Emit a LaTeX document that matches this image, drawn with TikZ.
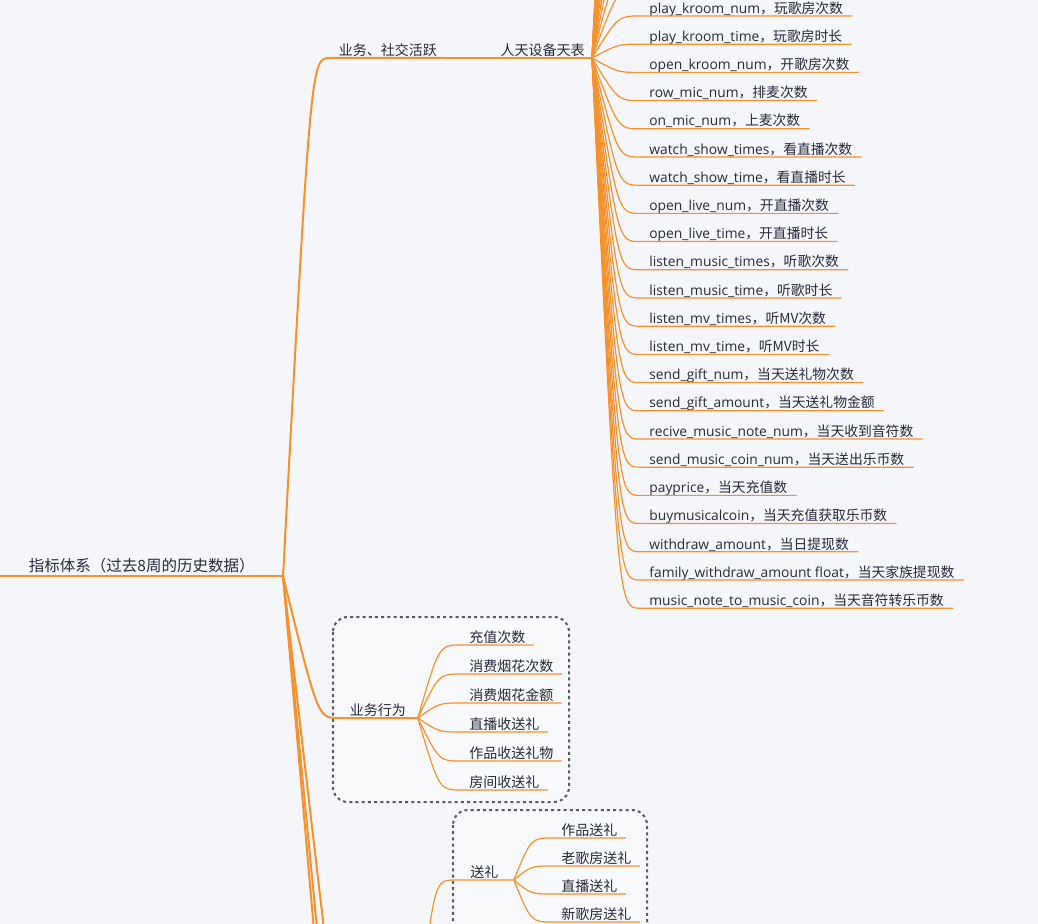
\documentclass[tikz,border=0pt]{standalone}
\usepackage{fontspec}
\setmainfont{Open Sans}
\newfontfamily\cjk{Noto Sans CJK SC}
\usetikzlibrary{positioning,calc}
\definecolor{bgcol}{HTML}{F5F6FA}
\definecolor{linecol}{HTML}{F5922E}
\definecolor{txtcol}{HTML}{262A3A}
\definecolor{boxcol}{HTML}{5A5A60}
\newcommand\zh[1]{{\cjk #1}}
\begin{document}
\begin{tikzpicture}[x=0.5pt, y=-0.5pt,
    every node/.style={text=txtcol, inner sep=0pt, text depth=1.2pt},
    roottopic/.style={font=\cjk\fontsize{7.75}{9}\selectfont, inner xsep=14pt, text depth=2pt},
    topic/.style={font=\cjk\fontsize{7}{8}\selectfont, inner xsep=4.5pt},
    leaf/.style={font=\fontsize{6.9}{8}\selectfont, inner xsep=4.5pt},
    rootlink/.style={draw=linecol, line width=1.25pt},
    mainlink/.style={draw=linecol, line width=1pt},
    sublink/.style={draw=linecol, line width=0.8pt},
    link/.style={draw=linecol, line width=0.6pt},
    grp/.style={draw=boxcol, fill=bgcol!70!white, line width=1pt, dash pattern=on 1.5pt off 1.6pt, rounded corners=7.5pt}]
  % 1. 画布
  \useasboundingbox (0,0) rectangle (1038,924);
  \fill[bgcol] (0,0) rectangle (1038,924);
  \clip (0,0) rectangle (1038,924);

  % 2. 虚线分组框
  \draw[grp] (333,617) rectangle (569,802);
  \draw[grp] (453,810) rectangle (647,1000);

  % 3. 中心主题
  \coordinate (rootin) at (-10,576);
  \node[roottopic, anchor=south east] (root) at (283,576) {指标体系（过去8周的历史数据）};
  \draw[rootlink] (rootin) -- (root.south west) -- (root.south east);

  % 4. 一级分支
  \node[topic, anchor=south west, inner xsep=4.25pt] (biz) at (330,58) {业务、社交活跃};
  \node[topic, anchor=south east, inner xsep=3.5pt] (rsb) at (592,58) {人天设备天表};
  \node[topic, anchor=south west, inner xsep=5.75pt] (act) at (338,718) {业务行为};
  \draw[mainlink] (root.south east) .. controls ($(biz.south west)+(-19,0)$) .. (biz.south west) -- (biz.south east);
  \draw[sublink] (biz.south east) -- (rsb.south west) -- (rsb.south east);
  \draw[mainlink] (root.south east) .. controls ($(act.south west)+(-20,0)$) .. (act.south west) -- (act.south east);

  % 画面下方的其他分支
  \coordinate (dn1) at (410,1800);
  \coordinate (dn2) at (392,1500);
  \coordinate (dn3) at (375,1200);
  \foreach \k in {1,2,3}
    \draw[mainlink] (root.south east) .. controls ($(dn\k)+(-20,0)$) .. (dn\k);

  % 5. 人天设备天表的字段
  \foreach \k in {1,...,18} {
    \coordinate (up\k) at (640,{16-28.2*\k});
    \draw[link] (rsb.south east) .. controls ($(up\k)+(-22,0)$) .. (up\k) -- +(200,0);
  }
  \foreach \i/\en/\zhs in {1/play\_kroom\_num/，玩歌房次数, 2/play\_kroom\_time/，玩歌房时长,
      3/open\_kroom\_num/，开歌房次数, 4/row\_mic\_num/，排麦次数, 5/on\_mic\_num/，上麦次数,
      6/watch\_show\_times/，看直播次数, 7/watch\_show\_time/，看直播时长,
      8/open\_live\_num/，开直播次数, 9/open\_live\_time/，开直播时长,
      10/listen\_music\_times/，听歌次数, 11/listen\_music\_time/，听歌时长,
      12/listen\_mv\_times/，听MV次数, 13/listen\_mv\_time/，听MV时长,
      14/send\_gift\_num/，当天送礼物次数, 15/send\_gift\_amount/，当天送礼物金额,
      16/recive\_music\_note\_num/，当天收到音符数, 17/send\_music\_coin\_num/，当天送出乐币数,
      18/payprice/，当天充值数, 19/buymusicalcoin/，当天充值获取乐币数,
      20/withdraw\_amount/，当日提现数, 21/family\_withdraw\_amount float/，当天家族提现数,
      22/music\_note\_to\_music\_coin/，当天音符转乐币数} {
    \node[leaf, anchor=south west] (lf\i) at (640,{16+28.2*(\i-1)}) {\en\zh{\zhs}};
    \draw[link] (rsb.south east) .. controls ($(lf\i.south west)+(-22,0)$) .. (lf\i.south west) -- (lf\i.south east);
  }

  % 6. 业务行为
  \foreach \i/\t in {1/充值次数, 2/消费烟花次数, 3/消费烟花金额, 4/直播收送礼, 5/作品收送礼物, 6/房间收送礼} {
    \node[topic, anchor=south west, inner xsep=4pt] (ac\i) at (461,{645+29*(\i-1)}) {\t};
    \draw[link] (act.south east) .. controls ($(ac\i.south west)+(-22,0)$) .. (ac\i.south west) -- (ac\i.south east);
  }

  % 7. 送礼
  \coordinate (giftin) at (420,1000);
  \node[topic, anchor=south west, inner xsep=7.5pt] (gift) at (455,880) {送礼};
  \draw[link] (giftin) .. controls ($(gift.south west)+(-20,0)$) .. (gift.south west) -- (gift.south east);
  \foreach \i/\t in {1/作品送礼, 2/老歌房送礼, 3/直播送礼, 4/新歌房送礼} {
    \node[topic, anchor=south west, inner xsep=4pt] (gf\i) at (553,{838+28*(\i-1)}) {\t};
    \draw[link] (gift.south east) .. controls ($(gf\i.south west)+(-22,0)$) .. (gf\i.south west) -- (gf\i.south east);
  }
\end{tikzpicture}
\end{document}
